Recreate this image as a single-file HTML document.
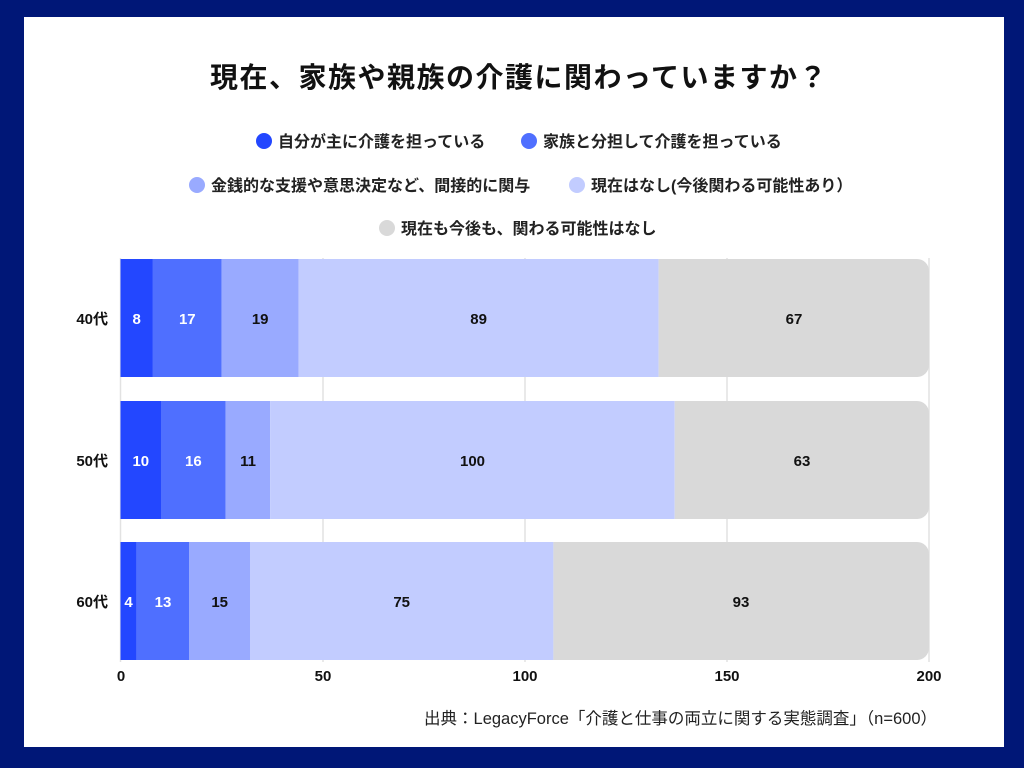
<!DOCTYPE html>
<html><head><meta charset="utf-8"><style>
body{margin:0;width:1024px;height:768px;background:#001777;font-family:"Liberation Sans","Noto Sans CJK JP",sans-serif;}
svg{position:absolute;left:0;top:0}
text{font-family:"Liberation Sans","Noto Sans CJK JP",sans-serif;}
</style></head><body>
<svg width="1024" height="768" xmlns="http://www.w3.org/2000/svg">
<rect x="24" y="17" width="980" height="730" fill="#fff"/>
<text x="519" y="87" text-anchor="middle" font-size="28" letter-spacing="1.5" font-weight="bold" fill="#111">現在、家族や親族の介護に関わっていますか？</text>
<g font-size="16" font-weight="bold" fill="#222">
<circle cx="264" cy="141" r="8" fill="#2347ff"/><text x="278" y="147">自分が主に介護を担っている</text>
<circle cx="529" cy="141" r="8" fill="#4f6fff"/><text x="543" y="147">家族と分担して介護を担っている</text>
<circle cx="197" cy="185" r="8" fill="#99aaff"/><text x="211" y="191">金銭的な支援や意思決定など、間接的に関与</text>
<circle cx="577" cy="185" r="8" fill="#c2ccff"/><text x="591" y="191">現在はなし(今後関わる可能性あり）</text>
<circle cx="387" cy="228" r="8" fill="#d9d9d9"/><text x="401" y="234">現在も今後も、関わる可能性はなし</text>
</g>
<g stroke="#e2e2e2" stroke-width="1.5">
<line x1="120.5" y1="258" x2="120.5" y2="662"/>
<line x1="323" y1="258" x2="323" y2="662"/>
<line x1="525" y1="258" x2="525" y2="662"/>
<line x1="727" y1="258" x2="727" y2="662"/>
<line x1="929" y1="258" x2="929" y2="662"/>
</g>
<defs>
<clipPath id="c1"><rect x="0" y="259" width="929" height="118" rx="12"/></clipPath>
<clipPath id="c2"><rect x="0" y="401" width="929" height="118" rx="12"/></clipPath>
<clipPath id="c3"><rect x="0" y="542" width="929" height="118" rx="12"/></clipPath>
</defs>
<g clip-path="url(#c1)">
<rect x="120.5" y="259" width="32.4" height="118" fill="#2347ff"/>
<rect x="152.9" y="259" width="68.8" height="118" fill="#4f6fff"/>
<rect x="221.7" y="259" width="76.9" height="118" fill="#99aaff"/>
<rect x="298.6" y="259" width="360" height="118" fill="#c2ccff"/>
<rect x="658.6" y="259" width="280" height="118" fill="#d9d9d9"/>
</g>
<g clip-path="url(#c2)">
<rect x="120.5" y="401" width="40.5" height="118" fill="#2347ff"/>
<rect x="161" y="401" width="64.7" height="118" fill="#4f6fff"/>
<rect x="225.7" y="401" width="44.5" height="118" fill="#99aaff"/>
<rect x="270.2" y="401" width="404.5" height="118" fill="#c2ccff"/>
<rect x="674.7" y="401" width="280" height="118" fill="#d9d9d9"/>
</g>
<g clip-path="url(#c3)">
<rect x="120.5" y="542" width="16.2" height="118" fill="#2347ff"/>
<rect x="136.7" y="542" width="52.6" height="118" fill="#4f6fff"/>
<rect x="189.3" y="542" width="60.7" height="118" fill="#99aaff"/>
<rect x="250" y="542" width="303.4" height="118" fill="#c2ccff"/>
<rect x="553.4" y="542" width="400" height="118" fill="#d9d9d9"/>
</g>
<g font-size="15" font-weight="bold" text-anchor="middle">
<g fill="#fff">
<text x="136.7" y="324">8</text><text x="187.3" y="324">17</text>
<text x="140.8" y="466">10</text><text x="193.4" y="466">16</text>
<text x="128.6" y="607">4</text><text x="163" y="607">13</text>
</g>
<g fill="#111">
<text x="260.2" y="324">19</text><text x="478.6" y="324">89</text><text x="794" y="324">67</text>
<text x="248" y="466">11</text><text x="472.5" y="466">100</text><text x="802" y="466">63</text>
<text x="219.7" y="607">15</text><text x="401.7" y="607">75</text><text x="741" y="607">93</text>
</g>
</g>
<g font-size="15" font-weight="bold" fill="#111" text-anchor="end">
<text x="108" y="324">40代</text><text x="108" y="466">50代</text><text x="108" y="607">60代</text>
</g>
<g font-size="15" font-weight="bold" fill="#111" text-anchor="middle">
<text x="121" y="681">0</text><text x="323" y="681">50</text><text x="525" y="681">100</text><text x="727" y="681">150</text><text x="929" y="681">200</text>
</g>
<text x="937" y="724" text-anchor="end" font-size="16.5" fill="#222">出典：LegacyForce「介護と仕事の両立に関する実態調査」（n=600）</text>
</svg>
</body></html>
